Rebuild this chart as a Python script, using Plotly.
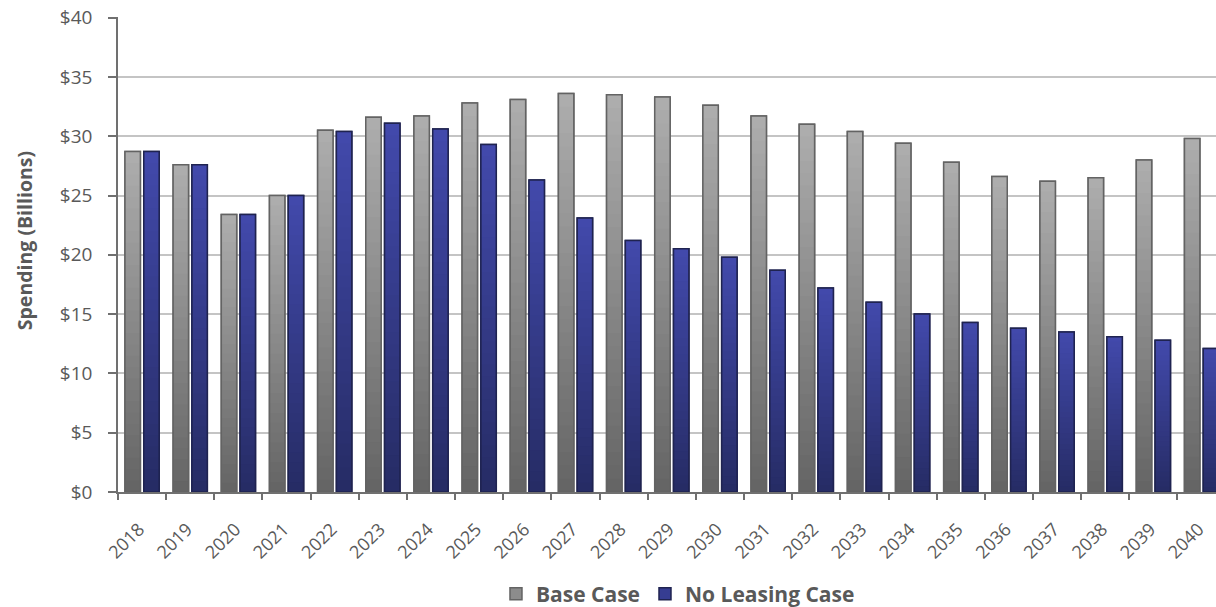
import plotly.graph_objects as go

# ---- data ----
years = ["2018", "2019", "2020", "2021", "2022", "2023", "2024", "2025", "2026", "2027",
         "2028", "2029", "2030", "2031", "2032", "2033", "2034", "2035", "2036", "2037",
         "2038", "2039", "2040"]
base_case = [28.7, 27.6, 23.4, 25.0, 30.5, 31.6, 31.7, 32.8, 33.1, 33.6,
             33.5, 33.3, 32.6, 31.7, 31.0, 30.4, 29.4, 27.8, 26.6, 26.2,
             26.5, 28.0, 29.8]
no_leasing_case = [28.7, 27.6, 23.4, 25.0, 30.4, 31.1, 30.6, 29.3, 26.3, 23.1,
                   21.2, 20.5, 19.8, 18.7, 17.2, 16.0, 15.0, 14.3, 13.8, 13.5,
                   13.1, 12.8, 12.1]
series_names = ["Base Case", "No Leasing Case"]
y_tick_values = [0, 5, 10, 15, 20, 25, 30, 35, 40]
y_tick_labels = ["$0", "$5", "$10", "$15", "$20", "$25", "$30", "$35", "$40"]
y_title = "Spending (Billions)"

# ---- styling ----
TEXT = "#595959"
FONT = "Open Sans"
styles = [
    dict(values=base_case, name=series_names[0], top=(174, 174, 174), bottom=(100, 100, 100),
         mid="#8c8c8c", line="#636363", offset=-0.355, width=0.32),
    dict(values=no_leasing_case, name=series_names[1], top=(66, 74, 172), bottom=(38, 43, 100),
         mid="#363d92", line="#1f2350", offset=0.035, width=0.32),
]
N = 30


def lerp(c1, c2, t):
    return "#%02x%02x%02x" % tuple(round(a + (b - a) * t) for a, b in zip(c1, c2))


fig = go.Figure()

# legend swatches (full bars in a mid tone, covered by the gradient below)
for s in styles:
    fig.add_trace(go.Bar(
        x=years, y=s["values"], name=s["name"], offset=s["offset"], width=s["width"],
        marker=dict(color=s["mid"], line=dict(color=s["line"], width=1.5)),
        hoverinfo="skip", showlegend=True,
    ))

# vertical gradient built from overlaid bars of decreasing height
for s in styles:
    for k in range(N):
        frac = (N - k) / N
        fig.add_trace(go.Bar(
            x=years, y=[v * frac for v in s["values"]], offset=s["offset"], width=s["width"],
            marker=dict(color=lerp(s["top"], s["bottom"], (k + 0.5) / N), line=dict(width=0)),
            hoverinfo="skip", showlegend=False,
        ))

# outlines on top
for s in styles:
    fig.add_trace(go.Bar(
        x=years, y=s["values"], offset=s["offset"], width=s["width"],
        marker=dict(color="rgba(0,0,0,0)", line=dict(color=s["line"], width=1.5)),
        hoverinfo="skip", showlegend=False,
    ))

fig.update_layout(
    width=1216, height=607,
    margin=dict(l=118, r=0, t=17, b=115, autoexpand=False),
    barmode="overlay",
    plot_bgcolor="white", paper_bgcolor="white",
    font=dict(family=FONT, color=TEXT, size=16),
    legend=dict(orientation="h", x=0.51, xanchor="center", y=-0.215, yanchor="middle",
                font=dict(family=FONT, size=21, color=TEXT, weight="bold"),
                itemclick=False, itemdoubleclick=False),
    xaxis=dict(
        type="category", range=[-0.5, 22.3], tickson="boundaries", automargin=False,
        ticks="outside", ticklen=6, tickwidth=1.5, tickcolor="#707070",
        showline=True, linecolor="#707070", linewidth=1.5,
        showgrid=False, tickangle=-45, ticklabelstandoff=18, ticklabelshift=-3,
        tickfont=dict(family=FONT, size=18, color=TEXT),
    ),
    yaxis=dict(
        range=[0, 40.05], tickmode="array", tickvals=y_tick_values, ticktext=y_tick_labels,
        automargin=False,
        ticks="outside", ticklen=8, tickwidth=1.5, tickcolor="#707070",
        showline=True, linecolor="#707070", linewidth=1.5,
        showgrid=True, gridcolor="#c4c4c4", gridwidth=1.5,
        zeroline=False, ticklabelstandoff=12,
        tickfont=dict(family=FONT, size=19, color=TEXT),
    ),
    annotations=[dict(
        text=y_title, textangle=-90, xref="paper", yref="paper",
        x=-0.0856, y=0.528, xanchor="center", yanchor="middle", showarrow=False,
        font=dict(family=FONT, size=19.5, color=TEXT, weight="bold"),
    )],
)

fig.write_html("out.html", config={"displayModeBar": False},
               post_script="document.body.style.margin='0';")
